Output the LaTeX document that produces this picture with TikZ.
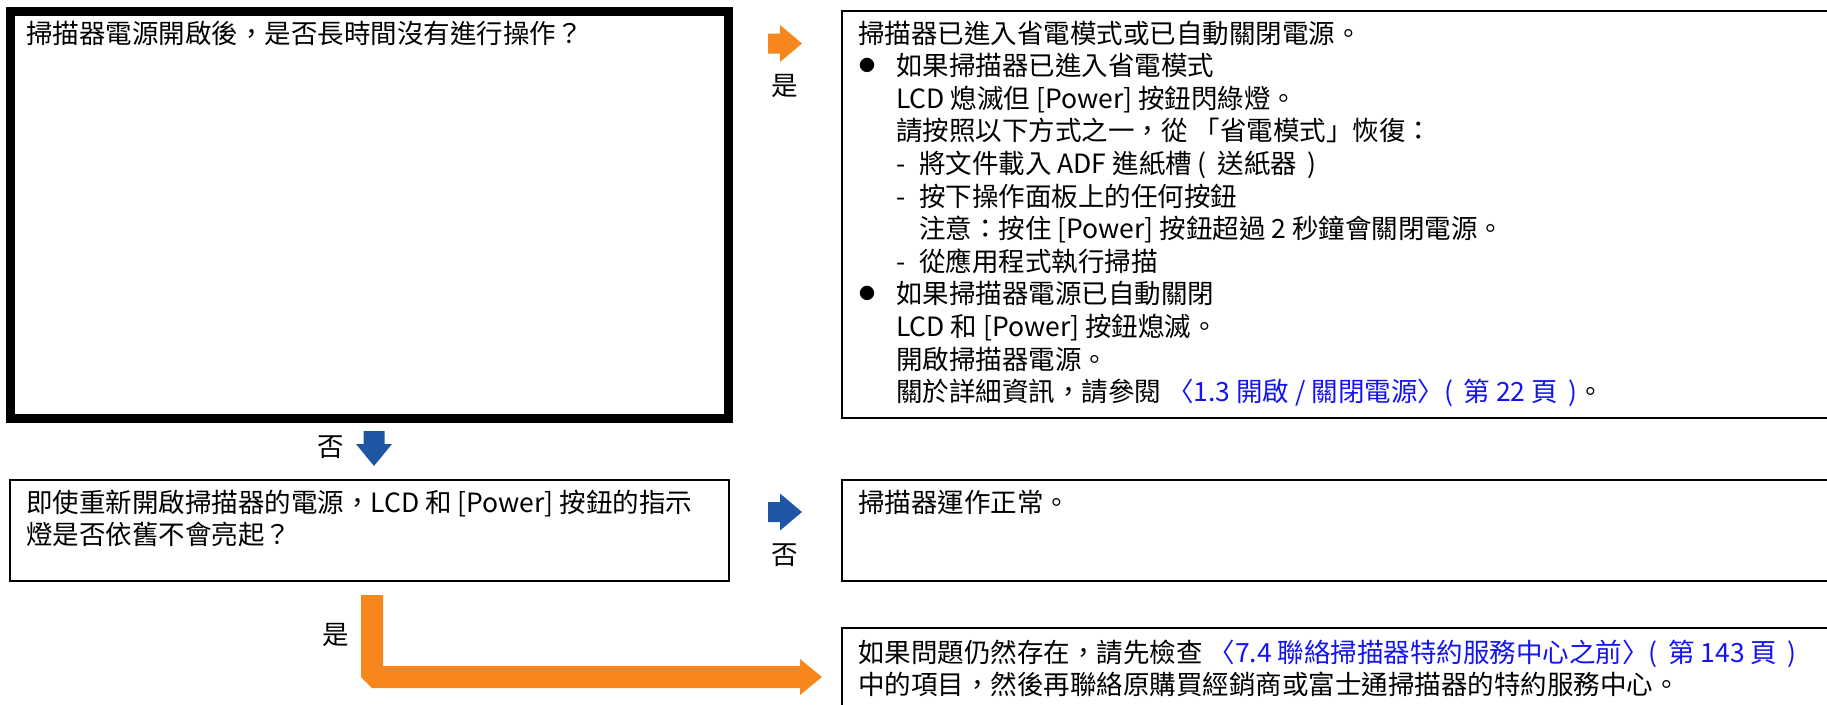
\documentclass[tikz,border=0pt]{standalone}
\usepackage{fontspec}
\setmainfont{Noto Sans CJK TC}

\definecolor{yajiorange}{RGB}{247,134,28}
\definecolor{yajiblue}{RGB}{31,86,163}
\definecolor{linkblue}{RGB}{20,20,240}

% 右向きの矢印
\newcommand{\migiyaji}[2]{%
  \fill[#2] #1 ++(0,-10) -- ++(12,0) -- ++(0,-8.5) -- ++(22,18.5)
    -- ++(-22,18.5) -- ++(0,-8.5) -- ++(-12,0) -- cycle;}
% 括弧の中の空き
\newcommand{\kaku}{\hspace{0.4em}}

\begin{document}
\begin{tikzpicture}[x=1pt,y=-1pt,
    txt/.style={anchor=base west,inner sep=0pt,font=\fontsize{26.5}{32.5}\selectfont},
    lbl/.style={anchor=center,inner sep=0pt,font=\fontsize{26.5}{32.5}\selectfont},
    waku/.style={draw,line width=2.5pt}]

    % パラメータの定義
    \pgfmathsetmacro{\ls}{32.6}
    \pgfmathsetmacro{\ax}{858}
    \pgfmathsetmacro{\bx}{896}
    \pgfmathsetmacro{\cx}{919}

    \useasboundingbox (0,0) rectangle (1827,704);
    \clip (0,0) rectangle (1827,704);

    % 点の定義
    \coordinate (Q1) at (10.5,11.5);
    \coordinate (A1) at (842,11);
    \coordinate (Q2) at (10,480);
    \coordinate (A2) at (842,480);
    \coordinate (A3) at (842,628);
    \coordinate (Y1) at (768,43.5);
    \coordinate (N2) at (768,512);
    \coordinate (N1) at (374,431);

    % 枠の描画
    \draw [line width=9pt] (Q1) rectangle (728.5,418.5);
    \draw [waku] (A1) rectangle (1860,418);
    \draw [waku] (Q2) rectangle (729,581);
    \draw [waku] (A2) rectangle (1860,581);
    \draw [waku] (A3) rectangle (1860,740);

    % 質問の文
    \node [txt] (q1t) at (26,43) {掃描器電源開啟後，是否長時間沒有進行操作？};
    \node [txt] (q2t) at (26,512) {即使重新開啟掃描器的電源，LCD 和 [Power] 按鈕的指示};
    \node [txt] (q2u) at (26,512+\ls) {燈是否依舊不會亮起？};

    % 答えの文
    \node [txt] (a1t1) at (\ax,43) {掃描器已進入省電模式或已自動關閉電源。};
    \node [lbl] (a1b1) at (867,43+\ls-10) {\fontsize{16}{16}\selectfont ●};
    \node [txt] (a1t2) at (\bx,43+\ls) {如果掃描器已進入省電模式};
    \node [txt] (a1t3) at (\bx,43+2*\ls) {LCD 熄滅但 [Power] 按鈕閃綠燈。};
    \node [txt] (a1t4) at (\bx,43+3*\ls) {請按照以下方式之一，從 「省電模式」恢復：};
    \node [txt] (a1t5) at (\bx,43+4*\ls) {\makebox[23pt][l]{-}將文件載入 ADF 進紙槽 (\kaku 送紙器\kaku)};
    \node [txt] (a1t6) at (\bx,43+5*\ls) {\makebox[23pt][l]{-}按下操作面板上的任何按鈕};
    \node [txt] (a1t7) at (\cx,43+6*\ls) {注意：按住 [Power] 按鈕超過 2 秒鐘會關閉電源。};
    \node [txt] (a1t8) at (\bx,43+7*\ls) {\makebox[23pt][l]{-}從應用程式執行掃描};
    \node [lbl] (a1b2) at (867,43+8*\ls-10) {\fontsize{16}{16}\selectfont ●};
    \node [txt] (a1t9) at (\bx,43+8*\ls) {如果掃描器電源已自動關閉};
    \node [txt] (a1t10) at (\bx,43+9*\ls) {LCD 和 [Power] 按鈕熄滅。};
    \node [txt] (a1t11) at (\bx,43+10*\ls) {開啟掃描器電源。};
    \node [txt] (a1t12) at (\bx,43+11*\ls) {關於詳細資訊，請參閱 {\color{linkblue}〈1.3 開啟 / 關閉電源〉(\kaku 第 22 頁\kaku)}。};
    \node [txt] (a2t) at (\ax,512) {掃描器運作正常。};
    \node [txt] (a3t1) at (\ax,662) {如果問題仍然存在，請先檢查 {\color{linkblue}〈7.4 聯絡掃描器特約服務中心之前〉(\kaku 第 143 頁\kaku)}};
    \node [txt] (a3t2) at (\ax,662+\ls) {中的項目，然後再聯絡原購買經銷商或富士通掃描器的特約服務中心。};

    % 矢印の描画
    \migiyaji{(Y1)}{yajiorange}
    \migiyaji{(N2)}{yajiblue}
    \fill [yajiblue] (N1) ++(-10.5,0) -- ++(21,0) -- ++(0,13) -- ++(7.5,0)
        -- ++(-18,22) -- ++(-18,-22) -- ++(7.5,0) -- cycle;
    \fill [yajiorange] (361,595) -- (383,595) -- (383,666) -- (800,666) -- (800,659)
        -- (822,677) -- (800,695) -- (800,688) -- (372,688) -- (361,677) -- cycle;

    % ラベル
    \node [lbl] (y1) at (785,86) {是};
    \node [lbl] (n1) at (331,447) {否};
    \node [lbl] (n2) at (785,555) {否};
    \node [lbl] (y2) at (336,635) {是};

\end{tikzpicture}
\end{document}
